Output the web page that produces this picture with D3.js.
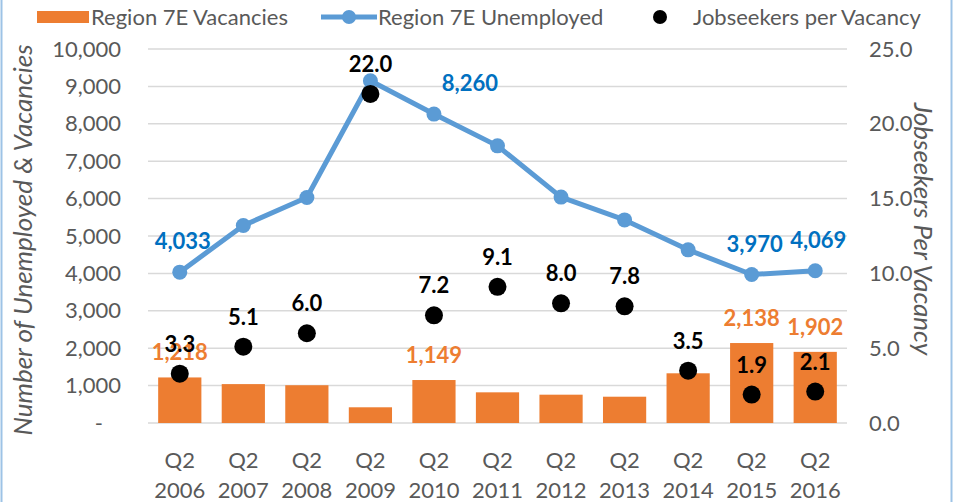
<!DOCTYPE html>
<html>
<head>
<meta charset="utf-8">
<script src="https://cdn.jsdelivr.net/npm/d3@7"></script>
<style>
  body { margin: 0; background: #fff; }
  text { font-family: Lato, "Open Sans", sans-serif; }
</style>
</head>
<body>
<script>
// Data
var categories = ["Q2 2006", "Q2 2007", "Q2 2008", "Q2 2009", "Q2 2010", "Q2 2011",
                  "Q2 2012", "Q2 2013", "Q2 2014", "Q2 2015", "Q2 2016"];
var vacancies = [1218, 1040, 1010, 420, 1149, 820, 757, 703, 1329, 2138, 1902];
var unemployed = [4033, 5280, 6030, 9150, 8260, 7410, 6040, 5430, 4630, 3970, 4069];
var ratio = [3.3, 5.1, 6.0, 22.0, 7.2, 9.1, 8.0, 7.8, 3.5, 1.9, 2.1];
var leftTicks = [0, 1000, 2000, 3000, 4000, 5000, 6000, 7000, 8000, 9000, 10000];
var rightTicks = [0, 5, 10, 15, 20, 25];
// which points get value labels
var vacLabelIdx = [0, 4, 9, 10];
var unempLabelIdx = [0, 4, 9, 10];

var svgWidth = 953;
var svgHeight = 502;

var margin = { top: 49, right: 106, bottom: 79, left: 148 };
var width = svgWidth - margin.left - margin.right;
var height = svgHeight - margin.top - margin.bottom;

var orange = "#ED7D31";
var blue = "#5B9BD5";
var darkBlue = "#0070C0";
var grey = "#595959";

var svg = d3.select("body")
  .append("svg")
  .attr("width", svgWidth)
  .attr("height", svgHeight);

// outer frame
svg.append("rect")
  .attr("x", 1.5).attr("y", -2)
  .attr("width", svgWidth - 3).attr("height", svgHeight + 4)
  .attr("fill", "none")
  .attr("stroke", "#9DC3E6")
  .attr("stroke-width", 2);

var chart = svg.append("g")
  .attr("transform", `translate(${margin.left}, ${margin.top})`);

var x = d3.scaleBand()
  .domain(categories)
  .range([0, width])
  .paddingInner(0.32)
  .paddingOuter(0.16);

var yLeft = d3.scaleLinear().domain([0, 10000]).range([height, 0]);
var yRight = d3.scaleLinear().domain([0, 25]).range([height, 0]);

var cx = function(i) { return x(categories[i]) + x.bandwidth() / 2; };

// gridlines
chart.append("g")
  .selectAll("line")
  .data(leftTicks)
  .enter()
  .append("line")
  .attr("x1", 0).attr("x2", width)
  .attr("y1", d => yLeft(d)).attr("y2", d => yLeft(d))
  .attr("stroke", "#D9D9D9")
  .attr("stroke-width", 1.5);

// left axis
var leftAxis = d3.axisLeft(yLeft)
  .tickValues(leftTicks)
  .tickSize(0)
  .tickPadding(27)
  .tickFormat(d => d === 0 ? "-" : d3.format(",")(d));
var gl = chart.append("g").call(leftAxis);
gl.select(".domain").remove();
gl.selectAll("text").attr("fill", grey).style("font-size", "22px");
gl.selectAll(".tick").filter(d => d === 0).select("text").attr("dx", -18);

// right axis
var rightAxis = d3.axisRight(yRight)
  .tickValues(rightTicks)
  .tickSize(0)
  .tickPadding(22)
  .tickFormat(d3.format(".1f"));
var gr = chart.append("g")
  .attr("transform", `translate(${width}, 0)`)
  .call(rightAxis);
gr.select(".domain").remove();
gr.selectAll("text").attr("fill", grey).style("font-size", "22px");

// x labels (two lines)
var xl = chart.append("g")
  .attr("transform", `translate(0, ${height})`)
  .selectAll("text")
  .data(categories)
  .enter()
  .append("text")
  .attr("x", (d, i) => cx(i))
  .attr("text-anchor", "middle")
  .attr("fill", grey)
  .style("font-size", "22px");
xl.append("tspan").attr("x", (d, i) => cx(i)).attr("y", 45).text(d => d.split(" ")[0]);
xl.append("tspan").attr("x", (d, i) => cx(i)).attr("y", 75).text(d => d.split(" ")[1]);

// bars
chart.selectAll(".bar")
  .data(vacancies)
  .enter()
  .append("rect")
  .attr("class", "bar")
  .attr("x", (d, i) => x(categories[i]))
  .attr("y", d => yLeft(d))
  .attr("width", x.bandwidth())
  .attr("height", d => height - yLeft(d))
  .attr("fill", orange);

// unemployed line
var line = d3.line()
  .x((d, i) => cx(i))
  .y(d => yLeft(d));
chart.append("path")
  .datum(unemployed)
  .attr("d", line)
  .attr("fill", "none")
  .attr("stroke", blue)
  .attr("stroke-width", 5)
  .attr("stroke-linejoin", "round");
chart.selectAll(".upt")
  .data(unemployed)
  .enter()
  .append("circle")
  .attr("class", "upt")
  .attr("cx", (d, i) => cx(i))
  .attr("cy", d => yLeft(d))
  .attr("r", 7.5)
  .attr("fill", blue);

// ratio dots
chart.selectAll(".rpt")
  .data(ratio)
  .enter()
  .append("circle")
  .attr("class", "rpt")
  .attr("cx", (d, i) => cx(i))
  .attr("cy", d => yRight(d))
  .attr("r", 9)
  .attr("fill", "#000");

// labels
chart.selectAll(".vlab")
  .data(vacLabelIdx)
  .enter()
  .append("text")
  .attr("x", i => cx(i))
  .attr("y", i => yLeft(vacancies[i]) - 17)
  .attr("text-anchor", "middle")
  .attr("fill", orange)
  .style("font-size", "22px")
  .style("font-weight", "bold")
  .text(i => d3.format(",")(vacancies[i]));

var unempDx = { 4: 36 };
chart.selectAll(".ulab")
  .data(unempLabelIdx)
  .enter()
  .append("text")
  .attr("x", i => cx(i) + (unempDx[i] || 3))
  .attr("y", i => yLeft(unemployed[i]) - 23)
  .attr("text-anchor", "middle")
  .attr("fill", darkBlue)
  .style("font-size", "22px")
  .style("font-weight", "bold")
  .text(i => d3.format(",")(unemployed[i]));

chart.selectAll(".rlab")
  .data(ratio)
  .enter()
  .append("text")
  .attr("x", (d, i) => cx(i))
  .attr("y", d => yRight(d) - 22)
  .attr("text-anchor", "middle")
  .attr("fill", "#000")
  .style("font-size", "22px")
  .style("font-weight", "bold")
  .text(d => d3.format(".1f")(d));

// axis titles
svg.append("text")
  .attr("transform", `translate(32, ${margin.top + height / 2 + 4}) rotate(-90)`)
  .attr("text-anchor", "middle")
  .attr("fill", grey)
  .style("font-size", "26px")
  .style("font-style", "italic")
  .text("Number of Unemployed & Vacancies");

svg.append("text")
  .attr("transform", `translate(914, ${margin.top + height / 2 - 7}) rotate(90)`)
  .attr("text-anchor", "middle")
  .attr("fill", grey)
  .style("font-size", "26px")
  .style("font-style", "italic")
  .text("Jobseekers Per Vacancy");

// legend
var legend = svg.append("g").style("font-size", "22px");
legend.append("rect")
  .attr("x", 37).attr("y", 11).attr("width", 52).attr("height", 12)
  .attr("fill", orange);
legend.append("text").attr("x", 91).attr("y", 25).attr("fill", grey)
  .text("Region 7E Vacancies");
legend.append("line")
  .attr("x1", 321).attr("x2", 377).attr("y1", 17).attr("y2", 17)
  .attr("stroke", blue).attr("stroke-width", 5);
legend.append("circle").attr("cx", 349).attr("cy", 17).attr("r", 7).attr("fill", blue);
legend.append("text").attr("x", 378).attr("y", 25).attr("fill", grey)
  .text("Region 7E Unemployed");
legend.append("circle").attr("cx", 660).attr("cy", 17).attr("r", 7).attr("fill", "#000");
legend.append("text").attr("x", 693).attr("y", 25).attr("fill", grey)
  .text("Jobseekers per Vacancy");
</script>
</body>
</html>
